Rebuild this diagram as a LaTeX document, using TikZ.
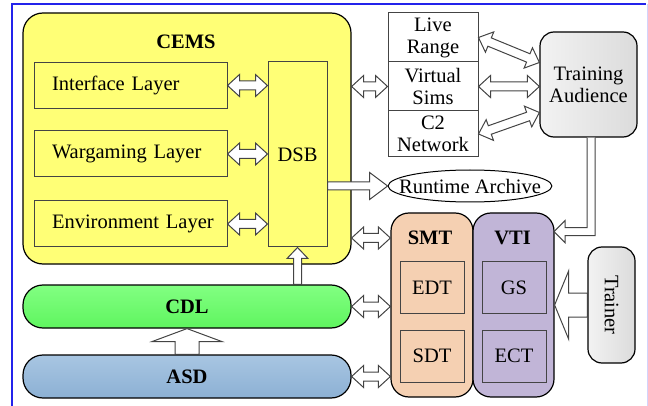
\documentclass[tikz,border=0pt]{standalone}
\usepackage{fontspec}
\setmainfont{Liberation Serif}
\usetikzlibrary{calc, positioning, shapes.geometric}

\definecolor{cemsyellow}{RGB}{255,255,118}
\definecolor{smtpeach}{RGB}{245,208,178}
\definecolor{vtipurple}{RGB}{193,181,215}
\definecolor{boxline}{RGB}{68,68,68}
\definecolor{frameblue}{RGB}{35,35,235}
\definecolor{cdltop}{RGB}{130,255,130}
\definecolor{cdlbot}{RGB}{95,245,95}
\definecolor{asdtop}{RGB}{168,198,226}
\definecolor{asdbot}{RGB}{140,176,212}

% hollow block arrow, one head: from, to, shaft half width, head half width, head length
\newcommand{\oneway}[5]{%
  \path let \p1=(#1), \p2=(#2) in \pgfextra{%
    \pgfmathsetmacro\arrang{atan2((\y2)-(\y1),(\x2)-(\x1))}\global\let\arrang\arrang
    \pgfmathsetmacro\arrlen{veclen((\x2)-(\x1),(\y2)-(\y1))}\global\let\arrlen\arrlen};
  \draw[blockarrow, shift={(#1)}, rotate=\arrang]
    (0pt,#3pt) -- ({\arrlen pt-#5pt},#3pt) -- ({\arrlen pt-#5pt},#4pt) -- (\arrlen pt,0pt)
    -- ({\arrlen pt-#5pt},-#4pt) -- ({\arrlen pt-#5pt},-#3pt) -- (0pt,-#3pt) -- cycle;}
% hollow block arrow, two heads
\newcommand{\twoway}[2]{%
  \path let \p1=(#1), \p2=(#2) in \pgfextra{%
    \pgfmathsetmacro\arrang{atan2((\y2)-(\y1),(\x2)-(\x1))}\global\let\arrang\arrang
    \pgfmathsetmacro\arrlen{veclen((\x2)-(\x1),(\y2)-(\y1))}\global\let\arrlen\arrlen};
  \draw[blockarrow, shift={(#1)}, rotate=\arrang]
    (0pt,0pt) -- (12pt,11pt) -- (12pt,4.5pt) -- ({\arrlen pt-12pt},4.5pt) -- ({\arrlen pt-12pt},11pt)
    -- (\arrlen pt,0pt) -- ({\arrlen pt-12pt},-11pt) -- ({\arrlen pt-12pt},-4.5pt)
    -- (12pt,-4.5pt) -- (12pt,-11pt) -- cycle;}

\begin{document}
\begin{tikzpicture}[x=1pt, y=-1pt, font=\fontsize{20.5}{22}\selectfont,
  blockarrow/.style={draw=boxline, fill=white, line width=1pt, line join=miter},
  layer/.style={draw=boxline, fill=cemsyellow, line width=1pt, minimum height=46pt,
    text width=167pt, inner xsep=13pt, align=left},
  subbox/.style={draw=boxline, line width=1pt, minimum width=64pt, minimum height=52pt},
  stack/.style={draw=boxline, fill=white, line width=1pt, minimum width=90pt, align=center, inner sep=0pt},
  bar/.style={draw, line width=1.2pt, rounded corners=20pt, minimum width=328pt, minimum height=43pt,
    font=\fontsize{20.5}{22}\selectfont\bfseries},
  tool/.style={draw, line width=1.2pt, rounded corners=18pt, minimum width=82pt, minimum height=184pt},
  grey/.style={draw, line width=1.2pt, rounded corners=14pt, left color=gray!10, right color=gray!28, align=center},
  title/.style={font=\fontsize{20.5}{22}\selectfont\bfseries}]
  \useasboundingbox (0,0) rectangle (648,406);

  % frame of the figure
  \draw[frameblue, line width=1.5pt] (12,406) -- (12,4) -- (646,4);
  \draw[frameblue!20, line width=1pt] (647,4) -- (647,406);

  % CEMS
  \node[draw, line width=1.2pt, fill=cemsyellow, rounded corners=20pt,
        minimum width=328pt, minimum height=251pt] (cems) at (187,138.5) {};
  \node[title] (cemslbl) at (186,42) {CEMS};
  \node[layer] (iface) at (130.5,85.5) {\hspace*{5pt}Interface Layer};
  \node[layer] (wargame) at (130.5,154) {\hspace*{5pt}Wargaming Layer};
  \node[layer] (env) at (130.5,224) {\hspace*{5pt}Environment Layer};
  \node[draw=boxline, fill=cemsyellow, line width=1pt, minimum width=59pt, minimum height=185pt] (dsb) at (297.5,154.5) {DSB};

  % CDL and ASD
  \node[bar, top color=cdltop, bottom color=cdlbot] (cdl) at (187,306.5) {CDL};
  \node[bar, top color=asdtop, bottom color=asdbot] (asd) at (187,376.5) {ASD};

  % live, virtual, constructive side
  \node[stack, minimum height=49pt] (live) at (433,37.5) {Live\\Range};
  \node[stack, minimum height=49pt] (vsims) at (433,86.5) {Virtual\\Sims};
  \node[stack, minimum height=46pt] (ctwo) at (433,134) {C2\\Network};
  \node[grey, minimum width=97pt, minimum height=105pt] (ta) at (588.5,84.5) {Training\\Audience};
  \node[draw, ellipse, line width=1pt, fill=white, inner xsep=-13pt, inner ysep=0pt,
        minimum height=32pt] (archive) at (470,186) {Runtime Archive};

  % SMT and VTI
  \node[tool, fill=smtpeach] (smt) at (432,305) {};
  \node[tool, fill=vtipurple, minimum width=81pt] (vti) at (513.5,305) {};
  \node[title] (smtlbl) at (430,238) {SMT};
  \node[title] (vtilbl) at (512.5,238) {VTI};
  \node[subbox] (edt) at (432,287.5) {EDT};
  \node[subbox] (sdt) at (432,356) {SDT};
  \node[subbox] (gs) at (514,287.5) {GS};
  \node[subbox] (ect) at (514,356) {ECT};
  \node[grey, rotate=-90, minimum width=116pt, minimum height=47pt, inner sep=0pt] (trainer) at (611.5,305) {Trainer};

  % connectors
  \twoway{iface.east}{iface.east -| dsb.west}
  \twoway{wargame.east}{wargame.east -| dsb.west}
  \twoway{env.east}{env.east -| dsb.west}
  \twoway{cems.east |- vsims.west}{vsims.west}
  \twoway{live.east}{[yshift=22pt]ta.west}
  \twoway{vsims.east}{vsims.east -| ta.west}
  \twoway{ctwo.east}{[yshift=-28pt]ta.west}
  \oneway{dsb.east |- archive.west}{archive.west}{4}{13.5}{18}
  \twoway{cems.east |- smtlbl}{smt.west |- smtlbl}
  \twoway{cdl.east}{cdl.east -| smt.west}
  \twoway{asd.east}{asd.east -| smt.west}
  \oneway{dsb.south |- cdl.north}{dsb.south}{4}{10.5}{11}
  \oneway{asd.north}{cdl.south}{12}{35}{13}
  \oneway{trainer.south}{trainer.south -| vti.east}{12}{34}{14}

  % audience feedback into VTI
  \coordinate (bend) at ($(ta.south)+(2.5,94)$);
  \begin{scope}[shift={(bend)}]
    \draw[blockarrow] (-4,-94) -- (-4,-4) -- (-26,-4) -- (-26,-11) -- (-37,0) -- (-26,11) -- (-26,4) -- (4,4) -- (4,-94);
  \end{scope}
\end{tikzpicture}
\end{document}
